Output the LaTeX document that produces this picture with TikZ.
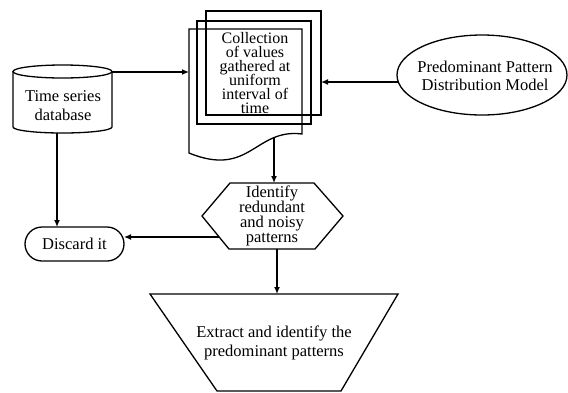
\documentclass[tikz,border=0pt]{standalone}
\usepackage{fontspec}
\setmainfont{Liberation Serif}
\usetikzlibrary{arrows.meta}
\newcommand\mytightlines{\lineskiplimit=-100pt\relax}
\begin{document}
\begin{tikzpicture}[x=1pt,y=-1pt,
  shp/.style={line width=1.3pt,line join=miter},
  conn/.style={line width=1.3pt,-{Latex[length=7pt,width=6pt]}},
  lbl/.style={align=center,inner sep=0pt,font=\fontsize{16.5}{18.5}\selectfont}]
\useasboundingbox (0,0) rectangle (568,392);
% cylinder
\draw[shp] (62.5,71.5) ellipse [x radius=49.5pt, y radius=6.5pt];
\draw[shp] (13,71.5) -- (13,127) arc[start angle=180,end angle=360,x radius=49.5pt,y radius=6pt] -- (112,71.5);
\node[lbl,font=\fontsize{16.5}{19}\selectfont] (db) at (63,106) {Time series\\database};
\coordinate (dbR) at (112,72);
\coordinate (dbB) at (57,133);
% document stack (outlines only, all visible)
\draw[shp] (206,11) rectangle (321,115);
\draw[shp] (197,21) rectangle (311,124);
\draw[shp] (189,29) -- (302,29) -- (302,134)
  .. controls (255,128) and (250,178) .. (189,153) -- cycle;
\node[lbl,font=\fontsize{16}{14}\selectfont\mytightlines] (doc) at (255,73) {Collection\\of values\\gathered at\\uniform\\interval of\\time};
\coordinate (docL) at (189,72);
\coordinate (docB) at (274,137);
\coordinate (docR) at (321,82);
% ellipse
\draw[shp] (482,75) ellipse [x radius=85pt, y radius=40pt];
\node[lbl,font=\fontsize{16.5}{18}\selectfont] (model) at (485,76) {Predominant Pattern\\Distribution Model};
\coordinate (modelL) at (398.3,82);
% hexagon
\draw[shp] (230,183) -- (314,183) -- (343,216) -- (315,249) -- (229,249) -- (202,216) -- cycle;
\node[lbl,font=\fontsize{16.5}{15}\selectfont\mytightlines] (hex) at (272,216) {Identify\\redundant\\and noisy\\patterns};
\coordinate (hexT) at (274,183);
\coordinate (hexL) at (219,237);
\coordinate (hexB) at (277,249);
% discard
\draw[shp,rounded corners=17pt] (25,227) rectangle (124,261);
\node[lbl] (disc) at (74.5,244) {Discard it};
\coordinate (discT) at (57,227);
\coordinate (discR) at (124,237);
% trapezoid
\draw[shp] (150,294) -- (398,294) -- (341,391) -- (217,391) -- cycle;
\node[lbl,font=\fontsize{16.5}{18.5}\selectfont] (ext) at (274,343) {Extract and identify the\\predominant patterns};
\coordinate (extT) at (277,294);
% connectors
\draw[conn] (dbR) -- (docL);
\draw[conn] (modelL) -- (docR);
\draw[conn] (docB) -- (hexT);
\draw[conn] (dbB) -- (discT);
\draw[conn] (hexL) -- (discR);
\draw[conn] (hexB) -- (extT);
\end{tikzpicture}
\end{document}
